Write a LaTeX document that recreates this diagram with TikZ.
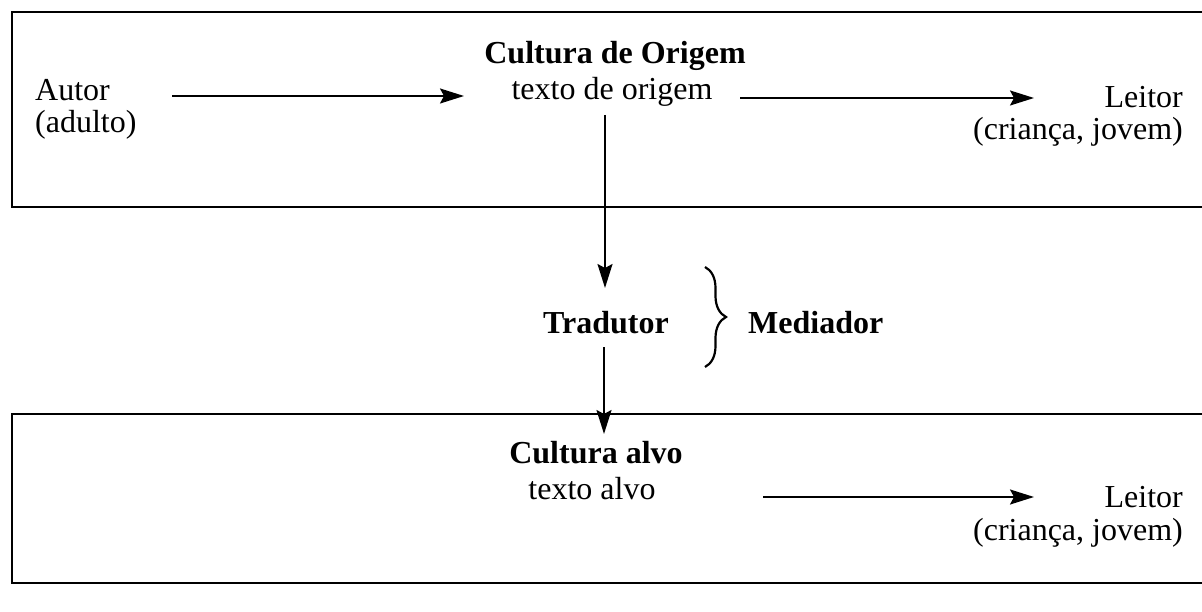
\documentclass[tikz,border=0pt]{standalone}
\usepackage{fontspec}
\setmainfont{Liberation Serif}
\usetikzlibrary{arrows.meta,decorations.pathreplacing}
\begin{document}
\begin{tikzpicture}[x=1pt,y=-1pt,
  txt/.style={font=\fontsize{32}{36}\selectfont, inner sep=0pt},
  bold/.style={font=\fontsize{32}{36}\selectfont\bfseries, inner sep=0pt},
  frame/.style={line width=2.8pt},
  arr/.style={line width=1.8pt, -{Stealth[length=24pt,width=15pt,inset=4pt]}},
  bracestyle/.style={line width=2.2pt, decorate, decoration={brace, amplitude=21pt, aspect=0.5}}]
\useasboundingbox (0,0) rectangle (1202,612);
\clip (0,0) rectangle (1202,612);
\fill[white] (0,0) rectangle (1202,612);
% boxes
\draw[frame] (12,12) rectangle (1230,207);
\draw[frame] (12,414) rectangle (1230,583);
% top box texts
\node[bold, anchor=base] (cultorig) at (615,64) {Cultura de Origem};
\node[txt, anchor=base west] (autor) at (35,101) {Autor};
\node[txt, anchor=base west] (adulto) at (35,133) {(adulto)};
\node[txt, anchor=base] (txtorig) at (612,100) {texto de origem};
\node[txt, anchor=base east] (leitor1) at (1183,108) {Leitor};
\node[txt, anchor=base east] (crianca1) at (1183,140) {(criança, jovem)};
% middle
\node[bold, anchor=base] (tradutor) at (606,334) {Tradutor};
\node[bold, anchor=base west] (mediador) at (748,334) {Mediador};
% bottom box texts
\node[bold, anchor=base] (cultalvo) at (596,463) {Cultura alvo};
\node[txt, anchor=base] (txtalvo) at (592,499) {texto alvo};
\node[txt, anchor=base east] (leitor2) at (1183,507) {Leitor};
\node[txt, anchor=base east] (crianca2) at (1183,540) {(criança, jovem)};
% connector ends
\coordinate (a1s) at (172,96);
\coordinate (a1e) at (464,96);
\coordinate (a2s) at (740,98);
\coordinate (a2e) at (1034,98);
\coordinate (vs) at (605,115);
\coordinate (ve) at (605,288);
\coordinate (ws) at (604,347);
\coordinate (we) at (604,434);
\coordinate (a3s) at (763,497);
\coordinate (a3e) at (1034,497);
\coordinate (bt) at (705,267);
\coordinate (bb) at (705,367);
% connectors
\draw[arr] (a1s) -- (a1e);
\draw[arr] (a2s) -- (a2e);
\draw[arr] (vs) -- (ve);
\draw[arr] (ws) -- (we);
\draw[arr] (a3s) -- (a3e);
\draw[bracestyle] (bt) -- (bb);
\end{tikzpicture}
\end{document}
